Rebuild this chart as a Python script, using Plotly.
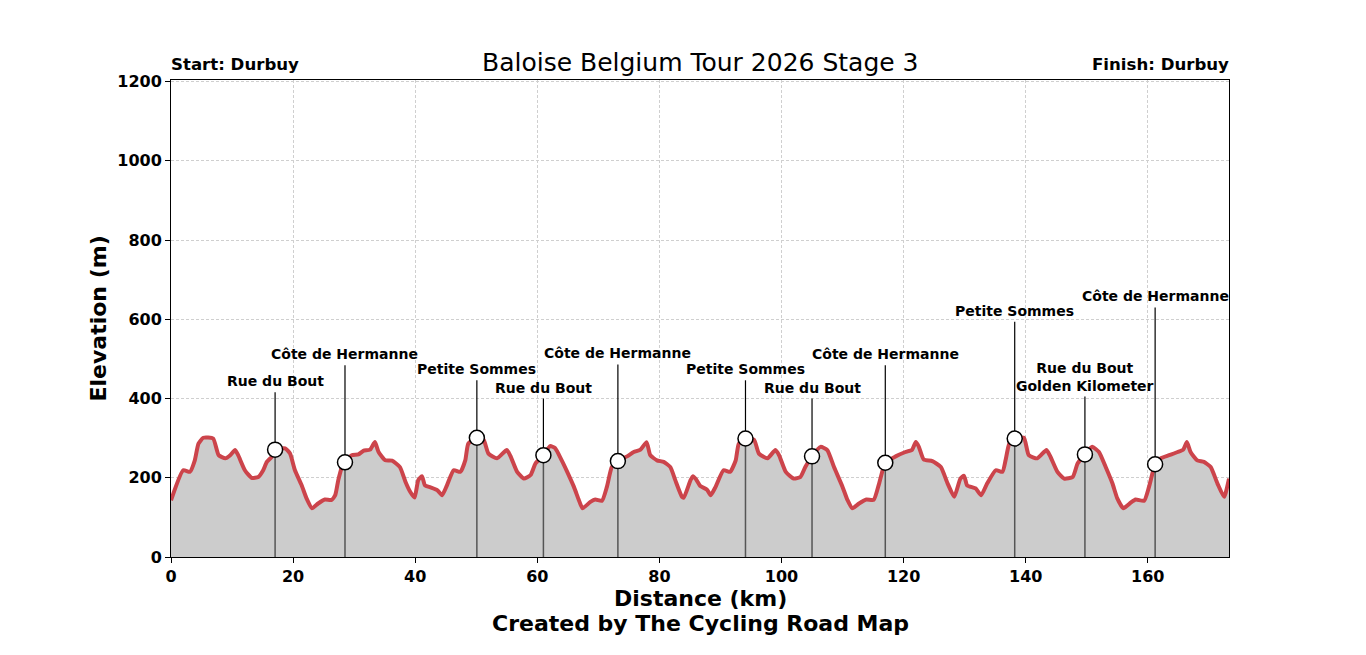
import plotly.graph_objects as go

# ---- Data ----
distance_km = [0.0, 2.0, 3.1, 3.9, 4.5, 5.3, 6.9, 7.8, 8.9, 9.7, 10.5, 11.0, 12.1, 13.2, 14.3, 15.1, 15.7, 16.5,
               17.05, 18.7, 19.5, 20.3, 21.4, 22.2, 23.1, 24.1, 25.2, 26.3, 26.9, 27.4, 28.0, 28.5, 29.6, 30.7,
               31.5, 32.6, 33.4, 34.0, 35.1, 36.2, 37.5, 38.4, 39.2, 39.9, 40.5, 41.1, 41.6, 42.5, 43.6, 44.4,
               45.2, 46.3, 47.4, 48.2, 48.7, 50.1, 51.2, 52.0, 53.4, 55.0, 55.6, 56.7, 57.8, 58.9, 59.7, 61.0,
               62.1, 62.9, 64.0, 64.9, 66.0, 66.8, 67.4, 68.7, 69.5, 70.6, 71.4, 72.2, 73.2, 74.7, 75.8, 76.9,
               77.9, 78.5, 79.6, 80.7, 81.8, 82.6, 83.7, 84.0, 85.1, 85.5, 86.0, 86.7, 87.8, 88.4, 89.2, 90.5,
               91.6, 92.5, 93.0, 94.1, 95.5, 96.3, 97.7, 99.0, 99.6, 100.7, 102.0, 103.1, 103.9, 105.0, 106.4,
               107.5, 108.6, 110.0, 110.8, 111.6, 112.7, 113.9, 115.1, 116.0, 117.0, 118.7, 120.3, 121.4, 122.0,
               122.5, 123.3, 124.7, 126.1, 127.2, 128.3, 129.3, 129.9, 130.4, 131.8, 132.7, 133.7, 135.1, 136.2,
               136.7, 137.3, 138.2, 139.7, 140.5, 141.9, 143.4, 144.0, 145.2, 146.3, 147.7, 148.5, 149.7, 150.9,
               152.0, 153.1, 154.2, 155.0, 156.0, 157.2, 158.0, 159.4, 160.2, 161.2, 162.1, 163.5, 164.9, 165.8,
               166.4, 167.0, 168.1, 169.2, 170.3, 171.4, 172.5, 173.3]
elevation_m = [143, 219, 215, 244, 286, 301, 299, 257, 249, 257, 270, 257, 219, 200, 202, 219, 240, 253,
               271, 274, 261, 219, 181, 148, 123, 135, 145, 144, 156, 194, 227, 239, 257, 259,
               268, 271, 290, 265, 244, 243, 227, 190, 164, 150, 194, 204, 181, 176, 169, 156,
               181, 219, 215, 244, 286, 301, 296, 261, 249, 270, 255, 215, 198, 207, 236, 257,
               280, 275, 244, 215, 177, 144, 123, 139, 145, 142, 177, 227, 242, 254, 265, 271,
               290, 257, 244, 240, 227, 194, 152, 150, 194, 204, 196, 179, 170, 156, 177, 219,
               215, 244, 286, 299, 296, 261, 249, 270, 257, 215, 198, 202, 227, 254, 278,
               270, 227, 177, 144, 123, 135, 145, 144, 186, 238, 254, 265, 271, 290,
               278, 246, 242, 227, 186, 152, 198, 205, 181, 173, 156, 186, 219, 215,
               244, 286, 299, 301, 257, 249, 270, 255, 215, 198, 202, 236, 259, 278,
               265, 227, 186, 148, 123, 137, 145, 142, 177, 234, 249, 257, 265, 271,
               290, 265, 244, 240, 227, 186, 152, 198]

climb_names = ["Rue du Bout", "Côte de Hermanne", "Petite Sommes", "Rue du Bout", "Côte de Hermanne",
               "Petite Sommes", "Rue du Bout", "Côte de Hermanne", "Petite Sommes",
               "Rue du Bout<br>Golden Kilometer", "Côte de Hermanne"]
climb_km = [17.05, 28.5, 50.1, 61.0, 73.2, 94.1, 105.0, 117.0, 138.2, 149.7, 161.2]
climb_elev = [271, 239, 301, 257, 242, 299, 254, 238, 299, 259, 234]
label_elev = [416, 484, 446, 400, 486, 446, 400, 484, 594, 405, 630]

title_text = "Baloise Belgium Tour 2026 Stage 3"
start_text = "Start: Durbuy"
finish_text = "Finish: Durbuy"
x_ticks = [0, 20, 40, 60, 80, 100, 120, 140, 160]
y_ticks = [0, 200, 400, 600, 800, 1000, 1200]

FONT = "DejaVu Sans"

fig = go.Figure()

# Profile with fill
fig.add_trace(go.Scatter(
    x=distance_km, y=elevation_m, mode="lines",
    line=dict(color="#cc444b", width=4, shape="spline", smoothing=0.5),
    fill="tozeroy", fillcolor="#cccccc", hoverinfo="skip", showlegend=False))

# Vertical lines: gray below the climb point, black above up to the label
xs_low, ys_low, xs_high, ys_high = [], [], [], []
for k, e, l in zip(climb_km, climb_elev, label_elev):
    xs_low += [k, k, None]
    ys_low += [0, e, None]
    xs_high += [k, k, None]
    ys_high += [e, l, None]
fig.add_trace(go.Scatter(x=xs_low, y=ys_low, mode="lines",
                         line=dict(color="#555555", width=1.5), showlegend=False, hoverinfo="skip"))
fig.add_trace(go.Scatter(x=xs_high, y=ys_high, mode="lines",
                         line=dict(color="#000000", width=1.2), showlegend=False, hoverinfo="skip"))

# Climb markers
fig.add_trace(go.Scatter(x=climb_km, y=climb_elev, mode="markers",
                         marker=dict(size=15, color="white", line=dict(color="black", width=1.5)),
                         showlegend=False, hoverinfo="skip"))

annotations = []
for name, k, l in zip(climb_names, climb_km, label_elev):
    annotations.append(dict(x=k, y=l, xref="x", yref="y", text=name, showarrow=False,
                            xanchor="center", yanchor="bottom", yshift=1,
                            font=dict(family=FONT, size=14, color="black", weight="bold")))

annotations += [
    dict(x=0.5, y=1, xref="paper", yref="paper", text=title_text, showarrow=False,
         xanchor="center", yanchor="middle", yshift=18,
         font=dict(family=FONT, size=25, color="black")),
    dict(x=0, y=1, xref="paper", yref="paper", text=start_text, showarrow=False,
         xanchor="left", yanchor="middle", yshift=16, xshift=-2,
         font=dict(family=FONT, size=16.6, color="black", weight="bold")),
    dict(x=1, y=1, xref="paper", yref="paper", text=finish_text, showarrow=False,
         xanchor="right", yanchor="middle", yshift=16, xshift=2,
         font=dict(family=FONT, size=16.6, color="black", weight="bold")),
    dict(x=0.5, y=0, xref="paper", yref="paper", text="Distance (km)", showarrow=False,
         xanchor="center", yanchor="middle", yshift=-41,
         font=dict(family=FONT, size=22, color="black", weight="bold")),
    dict(x=0.5, y=0, xref="paper", yref="paper", text="Created by The Cycling Road Map", showarrow=False,
         xanchor="center", yanchor="middle", yshift=-66,
         font=dict(family=FONT, size=22, color="black", weight="bold")),
    dict(x=0, y=0.5, xref="paper", yref="paper", text="Elevation (m)", showarrow=False,
         textangle=-90, xanchor="center", yanchor="middle", xshift=-73,
         font=dict(family=FONT, size=22, color="black", weight="bold")),
]

axis_common = dict(showline=True, linecolor="black", linewidth=1, mirror=True,
                   ticks="outside", ticklen=5, tickwidth=1, tickcolor="black",
                   tickfont=dict(family=FONT, size=16, color="black", weight="bold"),
                   showgrid=True, gridcolor="#cfcfcf", gridwidth=1, griddash="3px,2px",
                   zeroline=False)

fig.update_layout(
    width=1366, height=655,
    margin=dict(l=171, r=137, t=80, b=98),
    plot_bgcolor="white", paper_bgcolor="white",
    xaxis=dict(range=[0, 173.3], tickvals=x_ticks, **axis_common),
    yaxis=dict(range=[0, 1204], tickvals=y_ticks, **axis_common),
    annotations=annotations,
    showlegend=False,
)

fig.write_html("out.html")
